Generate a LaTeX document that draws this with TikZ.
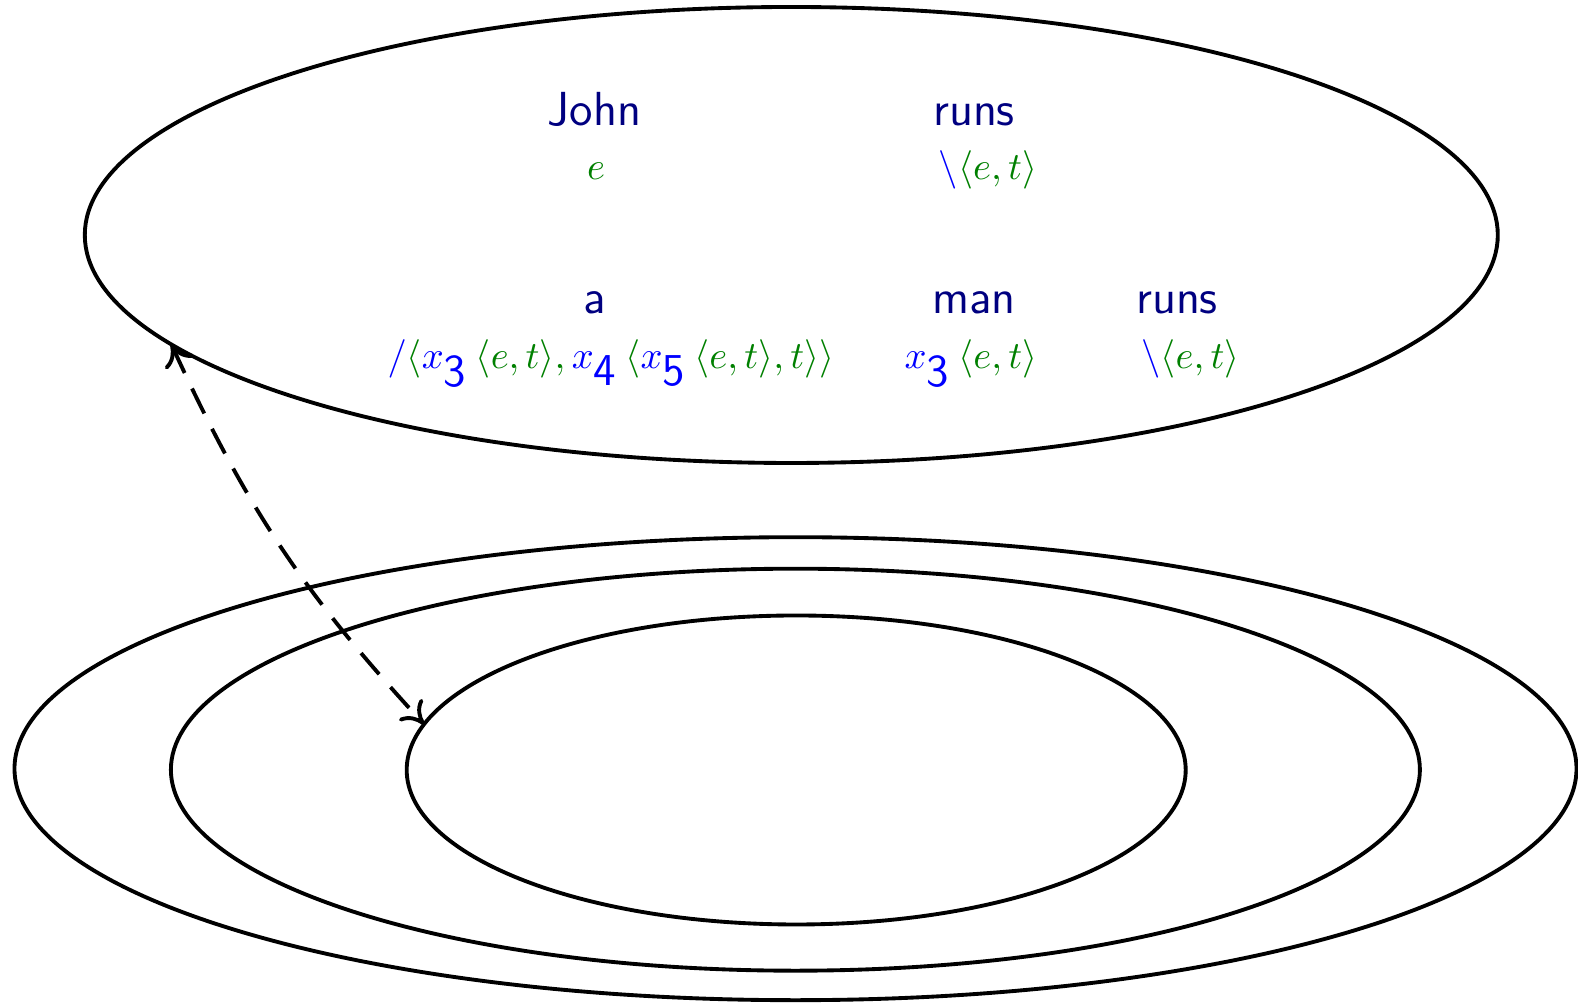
\documentclass[tikz,border=0pt]{standalone}
\usepackage{amsmath,amssymb}
\usepackage{xcolor}
\usepackage{tikz}
\usetikzlibrary{positioning,arrows.meta,shapes.geometric}
\definecolor{wordcol}{HTML}{000080}
\definecolor{typecol}{HTML}{008000}
\definecolor{slcol}{HTML}{0000FF}
\newcommand{\cb}[1]{\textcolor{slcol}{#1}}
\newcommand{\vx}[1]{\cb{x_{\mbox{\fontsize{13}{15}\sffamily #1\hspace{2.2pt}}}}}

\begin{document}
\begin{tikzpicture}[
   ell/.style={draw,ellipse,line width=1.1pt,inner sep=0pt,outer sep=0pt},
   wd/.style={anchor=base,text=wordcol,font=\fontsize{13.6}{16}\sffamily},
   ty/.style={anchor=base,text=typecol,font=\fontsize{11}{13}\selectfont},
   >={To[length=6pt,width=9pt]},
]
\useasboundingbox (0,0) rectangle (15.78,-10.03);
% ----- top plane
\node[ell,minimum width=141.3mm,minimum height=45.6mm] (top) at (7.913,-2.35) {};
% ----- nested planes
\node[ell,minimum width=156.2mm,minimum height=46.3mm] (outer) at (7.955,-7.687) {};
\node[ell,minimum width=124.9mm,minimum height=40.2mm] (middle) at (7.954,-7.697) {};
\node[ell,minimum width=77.9mm,minimum height=30.9mm] (inner) at (7.962,-7.70) {};

% ----- words and types
\node[wd] (john) at (5.945,-1.26) {John};
\node[ty] (johnT) at (5.96,-1.80) {$e$};
\node[wd] (runsA) at (9.74,-1.26) {runs};
\node[ty] (runsAT) at (9.88,-1.80) {$\cb{\backslash}\langle e,t\rangle$};
\node[wd] (det) at (5.95,-3.14) {a};
\node[ty] (detT) at (6.11,-3.69)
   {$\cb{/}\langle\vx{3}\langle e,t\rangle,\vx{4}\langle\vx{5}\langle e,t\rangle,t\rangle\rangle$};
\node[wd] (man) at (9.74,-3.14) {man};
\node[ty] (manT) at (9.71,-3.69) {$\vx{3}\langle e,t\rangle$};
\node[wd] (runsB) at (11.77,-3.14) {runs};
\node[ty] (runsBT) at (11.905,-3.69) {$\cb{\backslash}\langle e,t\rangle$};

% link
\draw[<->,line width=1.1pt,dash pattern=on 7.9pt off 4.9pt]
   (top.190.3) to[bend right=9] (inner.173.5);
\end{tikzpicture}
\end{document}
